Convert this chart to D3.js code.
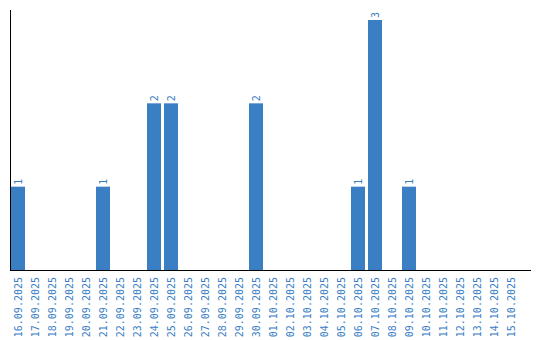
<!DOCTYPE html>
<html>
<head>
<meta charset="utf-8">
<script src="https://cdn.jsdelivr.net/npm/d3@7"></script>
<style>
  html, body { margin: 0; padding: 0; background: #fff; }
  svg text { font-family: "DejaVu Sans Mono", "Liberation Mono", monospace; }
</style>
</head>
<body>
<div id="chart"></div>
<script>
const dates = [
  "16.09.2025", "17.09.2025", "18.09.2025", "19.09.2025", "20.09.2025",
  "21.09.2025", "22.09.2025", "23.09.2025", "24.09.2025", "25.09.2025",
  "26.09.2025", "27.09.2025", "28.09.2025", "29.09.2025", "30.09.2025",
  "01.10.2025", "02.10.2025", "03.10.2025", "04.10.2025", "05.10.2025",
  "06.10.2025", "07.10.2025", "08.10.2025", "09.10.2025", "10.10.2025",
  "11.10.2025", "12.10.2025", "13.10.2025", "14.10.2025", "15.10.2025"
];
const counts = [
  1, 0, 0, 0, 0,
  1, 0, 0, 2, 2,
  0, 0, 0, 0, 2,
  0, 0, 0, 0, 0,
  1, 3, 0, 1, 0,
  0, 0, 0, 0, 0
];

const W = 540, H = 340;
const blue = "#3a7ec3";
const plotLeft = 10, plotTop = 10, plotBottom = 270, plotRight = 531;

const svg = d3.select("#chart").append("svg")
  .attr("width", W).attr("height", H);

const x = d3.scaleBand()
  .domain(dates)
  .range([plotLeft + 1, 518])
  .paddingInner(3 / 17)
  .paddingOuter(0);

const y = d3.scaleLinear()
  .domain([0, 3.12])
  .range([plotBottom, plotTop]);

const data = dates.map((d, i) => ({ date: d, value: counts[i] }));

// bars
svg.selectAll("rect.bar")
  .data(data.filter(d => d.value > 0))
  .enter().append("rect")
  .attr("class", "bar")
  .attr("x", d => x(d.date))
  .attr("y", d => y(d.value))
  .attr("width", x.bandwidth())
  .attr("height", d => y(0) - y(d.value))
  .attr("fill", blue);

// value labels
svg.selectAll("text.val")
  .data(data.filter(d => d.value > 0))
  .enter().append("text")
  .attr("class", "val")
  .attr("transform", d => `translate(${x(d.date) + x.bandwidth() / 2},${y(d.value) - 2}) rotate(-90)`)
  .attr("dy", "0.35em")
  .attr("text-anchor", "start")
  .attr("font-size", 10)
  .attr("fill", blue)
  .text(d => d.value);

// x tick labels
svg.selectAll("text.tick")
  .data(dates)
  .enter().append("text")
  .attr("class", "tick")
  .attr("transform", d => `translate(${x(d) + x.bandwidth() / 2},${plotBottom + 7}) rotate(-90)`)
  .attr("dy", "0.35em")
  .attr("text-anchor", "end")
  .attr("font-size", 10)
  .attr("fill", blue)
  .text(d => d);

// axes lines
svg.append("line")
  .attr("x1", plotLeft + 0.5).attr("x2", plotLeft + 0.5)
  .attr("y1", plotTop).attr("y2", plotBottom + 1)
  .attr("stroke", "#000").attr("stroke-width", 1);
svg.append("line")
  .attr("x1", plotLeft).attr("x2", plotRight)
  .attr("y1", plotBottom + 0.5).attr("y2", plotBottom + 0.5)
  .attr("stroke", "#000").attr("stroke-width", 1);
</script>
</body>
</html>
